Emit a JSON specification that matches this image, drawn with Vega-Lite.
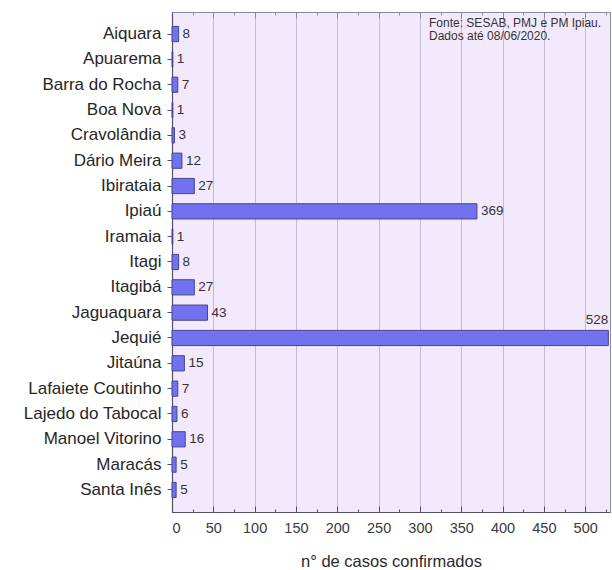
{
  "$schema": "https://vega.github.io/schema/vega-lite/v6.json",
  "autosize": {"type": "none"},
  "padding": {"left": 172, "top": 12, "right": 2, "bottom": 58},
  "width": 438,
  "height": 500,
  "background": "white",
  "config": {
    "font": "Liberation Sans",
    "view": {"fill": "#f3e9fc", "stroke": "#8a8a9a", "strokeWidth": 1}
  },
  "datasets": {
    "casos": [
      {"municipio": "Aiquara", "casos": 8},
      {"municipio": "Apuarema", "casos": 1},
      {"municipio": "Barra do Rocha", "casos": 7},
      {"municipio": "Boa Nova", "casos": 1},
      {"municipio": "Cravolândia", "casos": 3},
      {"municipio": "Dário Meira", "casos": 12},
      {"municipio": "Ibirataia", "casos": 27},
      {"municipio": "Ipiaú", "casos": 369},
      {"municipio": "Iramaia", "casos": 1},
      {"municipio": "Itagi", "casos": 8},
      {"municipio": "Itagibá", "casos": 27},
      {"municipio": "Jaguaquara", "casos": 43},
      {"municipio": "Jequié", "casos": 528},
      {"municipio": "Jitaúna", "casos": 15},
      {"municipio": "Lafaiete Coutinho", "casos": 7},
      {"municipio": "Lajedo do Tabocal", "casos": 6},
      {"municipio": "Manoel Vitorino", "casos": 16},
      {"municipio": "Maracás", "casos": 5},
      {"municipio": "Santa Inês", "casos": 5}
    ]
  },
  "resolve": {"axis": {"x": "independent"}},
  "layer": [
    {
      "data": {"name": "casos"},
      "mark": {"type": "bar", "color": "#7272f0", "stroke": "#45458f", "strokeWidth": 1},
      "encoding": {
        "y": {
          "field": "municipio", "type": "nominal", "sort": null,
          "scale": {"paddingInner": 0.4, "paddingOuter": 0.57},
          "axis": {
            "title": null, "orient": "left",
            "labelFontSize": 17, "labelColor": "#262626", "labelPadding": 6,
            "tickSize": 5, "tickColor": "#50506a", "domainColor": "#50506a", "domainWidth": 1.2
          }
        },
        "x": {
          "field": "casos", "type": "quantitative",
          "scale": {"domain": [0, 530], "nice": false, "zero": true},
          "axis": {
            "orient": "bottom",
            "title": "n° de casos confirmados",
            "titleFontSize": 16.5, "titleFontWeight": "normal", "titleColor": "#2a2a2a", "titlePadding": 19,
            "values": [0, 25, 50, 75, 100, 125, 150, 175, 200, 225, 250, 275, 300, 325, 350, 375, 400, 425, 450, 475, 500, 525],
            "labelExpr": "datum.value % 50 === 0 ? datum.label : ''",
            "labelFontSize": 14.5, "labelColor": "#3a3a3a", "labelPadding": 15,
            "tickSize": {"condition": {"test": "datum.value % 50 === 0", "value": -6}, "value": -3},
            "tickColor": "#50506a",
            "domainColor": "#50506a", "domainWidth": 1.2,
            "grid": true,
            "gridColor": "#c4bcd6",
            "gridOpacity": {"condition": {"test": "datum.value % 50 === 0 && datum.value > 0", "value": 1}, "value": 0}
          }
        }
      }
    },
    {
      "data": {"name": "casos"},
      "transform": [{"filter": "datum.casos < 500"}],
      "mark": {"type": "text", "align": "left", "baseline": "middle", "dx": 4, "fontSize": 13.5, "color": "#333333"},
      "encoding": {
        "y": {"field": "municipio", "type": "nominal", "sort": null},
        "x": {"field": "casos", "type": "quantitative", "axis": null},
        "text": {"field": "casos", "type": "quantitative"}
      }
    },
    {
      "data": {"name": "casos"},
      "transform": [{"filter": "datum.casos >= 500"}],
      "mark": {"type": "text", "align": "right", "baseline": "middle", "dy": -18, "fontSize": 13.5, "color": "#333333"},
      "encoding": {
        "y": {"field": "municipio", "type": "nominal", "sort": null},
        "x": {"field": "casos", "type": "quantitative", "axis": null},
        "text": {"field": "casos", "type": "quantitative"}
      }
    },
    {
      "data": {"values": [{"municipio": "Aiquara", "pos": 311, "nota": ["Fonte: SESAB, PMJ e PM Ipiau.", "Dados até 08/06/2020."]}]},
      "mark": {"type": "text", "align": "left", "baseline": "top", "dy": -16, "fontSize": 12, "lineHeight": 13, "color": "#333333"},
      "encoding": {
        "y": {"field": "municipio", "type": "nominal", "sort": null},
        "x": {
          "field": "pos", "type": "quantitative",
          "axis": {
            "orient": "top", "title": null, "labels": false, "grid": false,
            "values": [0, 25, 50, 75, 100, 125, 150, 175, 200, 225, 250, 275, 300, 325, 350, 375, 400, 425, 450, 475, 500, 525],
            "tickSize": {"condition": {"test": "datum.value % 50 === 0", "value": -6}, "value": -3},
            "tickColor": "#8a8a9a", "domainColor": "#8a8a9a"
          }
        },
        "text": {"field": "nota"}
      }
    }
  ]
}
